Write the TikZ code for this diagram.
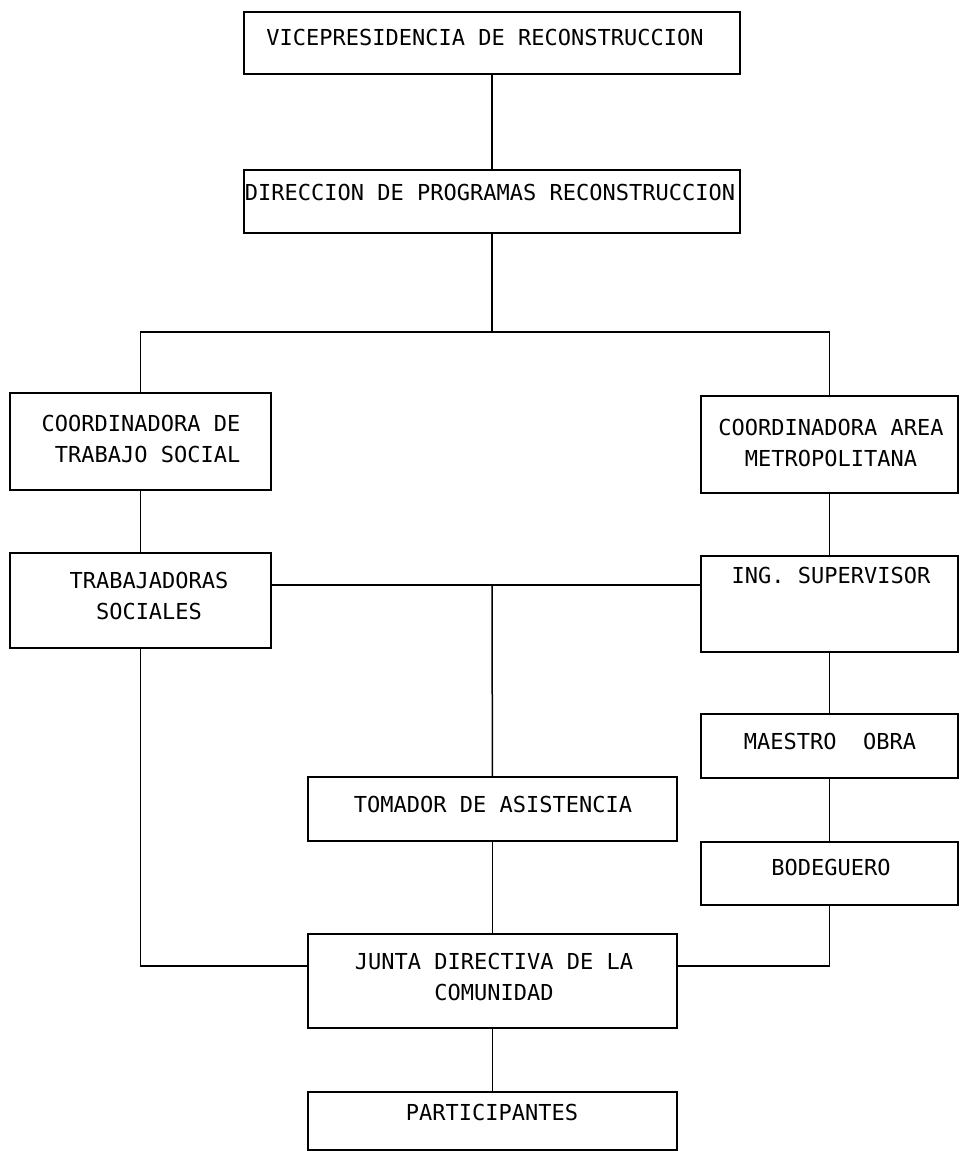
\documentclass[tikz,border=0pt]{standalone}
\usepackage{fontspec}
\newfontfamily\chartfont{DejaVu Sans Mono}
\usepackage{tikz}

\begin{document}
\begin{tikzpicture}[x=1pt,y=-1pt,
  caja/.style={draw,line width=1.5pt,inner sep=0pt},
  texto/.style={font=\chartfont\fontsize{22}{31}\selectfont,align=center,inner sep=0pt},
  linea/.style={line width=1.5pt}]
  \useasboundingbox (0,0) rectangle (961,1151);

  \node[caja,minimum width=496,minimum height=62] (vice) at (492,43) {};
  \node[caja,minimum width=496,minimum height=63] (dir) at (492,201.5) {};
  \node[caja,minimum width=261,minimum height=97] (cts) at (140.5,441.5) {};
  \node[caja,minimum width=261,minimum height=95] (ts) at (140.5,600.5) {};
  \node[caja,minimum width=257,minimum height=97] (cam) at (829.5,444.5) {};
  \node[caja,minimum width=257,minimum height=96] (ing) at (829.5,604) {};
  \node[caja,minimum width=257,minimum height=64] (mae) at (829.5,746) {};
  \node[caja,minimum width=257,minimum height=63] (bod) at (829.5,873.5) {};
  \node[caja,minimum width=369,minimum height=64] (tom) at (492.5,809) {};
  \node[caja,minimum width=369,minimum height=94] (junta) at (492.5,981) {};
  \node[caja,minimum width=369,minimum height=58] (part) at (492.5,1121) {};

  \node[texto] (vicetxt) at (485,37) {VICEPRESIDENCIA DE RECONSTRUCCION};
  \node[texto] (dirtxt) at (490,192) {DIRECCION DE PROGRAMAS RECONSTRUCCION};
  \node[texto] (ctstxt) at (141,439) {COORDINADORA DE\\\hphantom{C}TRABAJO SOCIAL};
  \node[texto] (tstxt) at (149,596) {TRABAJADORAS\\SOCIALES};
  \node[texto] (camtxt) at (831,443) {COORDINADORA AREA\\METROPOLITANA};
  \node[texto] (ingtxt) at (831,575) {ING. SUPERVISOR};
  \node[texto] (maetxt) at (830,741) {MAESTRO\ \ OBRA};
  \node[texto] (bodtxt) at (831,867) {BODEGUERO};
  \node[texto] (tomtxt) at (493,804) {TOMADOR DE ASISTENCIA};
  \node[texto] (juntatxt) at (494,977) {JUNTA DIRECTIVA DE LA\\COMUNIDAD};
  \node[texto] (parttxt) at (492,1112) {PARTICIPANTES};

  \coordinate (bus) at (492,332);
  \coordinate (tee) at (492,585);

  \draw[linea] (vice) -- (dir);
  \draw[linea] (dir) -- (bus);
  \draw[linea] (cts.north) |- (bus) -| (cam.north);
  \draw[linea] (cts) -- (ts);
  \draw[linea] (cam) -- (ing);
  \draw[linea] (ing) -- (mae);
  \draw[linea] (mae) -- (bod);
  \draw[linea] (ts.east |- tee) -- (ing.west |- tee);
  \draw[linea] (tee) -- (tom);
  \draw[linea] (tom) -- (junta);
  \draw[linea] (junta) -- (part);
  \draw[linea] (ts.south) |- ([yshift=15pt]junta.west);
  \draw[linea] (bod.south) |- ([yshift=15pt]junta.east);
\end{tikzpicture}
\end{document}
